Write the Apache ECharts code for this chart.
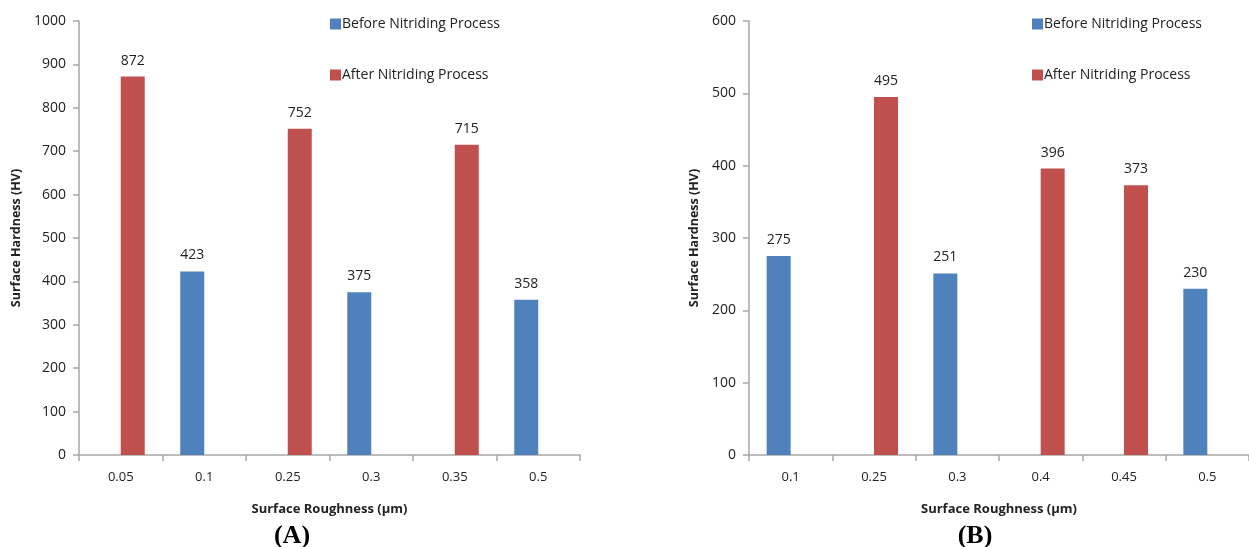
<!DOCTYPE html>
<html>
<head>
<meta charset="utf-8">
<script src="https://cdn.jsdelivr.net/npm/echarts@6/dist/echarts.min.js"></script>
<style>
html,body{margin:0;padding:0;background:#fff;}
#c{width:1249px;height:547px;}
</style>
</head>
<body>
<div id="c"></div>
<script>
const catsA = ['0.05', '0.1', '0.25', '0.3', '0.35', '0.5'];
const beforeA = [null, 423, null, 375, null, 358];
const afterA = [872, null, 752, null, 715, null];
const yTicksA = { min: 0, max: 1000, interval: 100 };

const catsB = ['0.1', '0.25', '0.3', '0.4', '0.45', '0.5'];
const beforeB = [275, null, 251, null, null, 230];
const afterB = [null, 495, null, 396, 373, null];
const yTicksB = { min: 0, max: 600, interval: 100 };

const nameBefore = 'Before Nitriding Process';
const nameAfter = 'After Nitriding Process';
const xTitle = 'Surface Roughness (\u00b5m)';
const yTitle = 'Surface Hardness (HV)';
const panelTitles = ['(A)', '(B)'];

const FONT = 'Open Sans';
const TXT = '#222';
const AX = '#a6a6a6';
const BLUE = '#4f81bd';
const RED = '#c0504d';

function xAxis(idx, cats) {
  return {
    type: 'category', gridIndex: idx, data: cats,
    axisLine: { lineStyle: { color: AX, width: 1.5 } },
    axisTick: { show: true, length: 6, lineStyle: { color: AX, width: 1.5 } },
    axisLabel: { color: TXT, fontFamily: FONT, fontSize: 13, margin: 16 },
    name: xTitle, nameLocation: 'middle', nameGap: 48,
    nameTextStyle: { color: TXT, fontFamily: FONT, fontSize: 13, fontWeight: 'bold' }
  };
}
function yAxis(idx, t, gap) {
  return {
    type: 'value', gridIndex: idx, min: t.min, max: t.max, interval: t.interval,
    axisLine: { show: true, lineStyle: { color: AX, width: 1.5 } },
    axisTick: { show: true, length: 6, lineStyle: { color: AX, width: 1.5 } },
    splitLine: { show: false },
    axisLabel: { color: TXT, fontFamily: FONT, fontSize: 14, margin: 13, formatter: v => String(v) },
    name: yTitle, nameLocation: 'middle', nameGap: gap, nameRotate: 90,
    nameTextStyle: { color: TXT, fontFamily: FONT, fontSize: 12.5, fontWeight: 'bold' }
  };
}
function bar(name, idx, data, color) {
  return {
    type: 'bar', name: name, xAxisIndex: idx, yAxisIndex: idx, data: data,
    barWidth: 24, barGap: '0%',
    itemStyle: { color: color },
    label: { show: true, position: 'top', distance: 9, color: TXT, fontFamily: FONT, fontSize: 14 }
  };
}
function legend(left) {
  return {
    orient: 'vertical', left: left, top: 12, itemGap: 37,
    itemWidth: 11, itemHeight: 11, icon: 'rect',
    data: [nameBefore, nameAfter],
    textStyle: { color: TXT, fontFamily: FONT, fontSize: 14, padding: [0, 0, 0, -4] }
  };
}

const chart = echarts.init(document.getElementById('c'));
chart.setOption({
  backgroundColor: '#fff',
  animation: false,
  grid: [
    { left: 79, top: 21, width: 501, height: 434 },
    { left: 749, top: 21, width: 508, height: 434 }
  ],
  xAxis: [xAxis(0, catsA), xAxis(1, catsB)],
  yAxis: [yAxis(0, yTicksA, 56), yAxis(1, yTicksB, 48)],
  legend: [legend(325), legend(1027)],
  title: [
    { text: panelTitles[0], left: 287, top: 518, textAlign: 'center',
      textStyle: { fontFamily: 'Liberation Serif', fontSize: 26, fontWeight: 'bold', color: '#000' } },
    { text: panelTitles[1], left: 970, top: 518, textAlign: 'center',
      textStyle: { fontFamily: 'Liberation Serif', fontSize: 26, fontWeight: 'bold', color: '#000' } }
  ],
  series: [
    bar(nameBefore, 0, beforeA, BLUE),
    bar(nameAfter, 0, afterA, RED),
    bar(nameBefore, 1, beforeB, BLUE),
    bar(nameAfter, 1, afterB, RED)
  ]
});
</script>
</body>
</html>
